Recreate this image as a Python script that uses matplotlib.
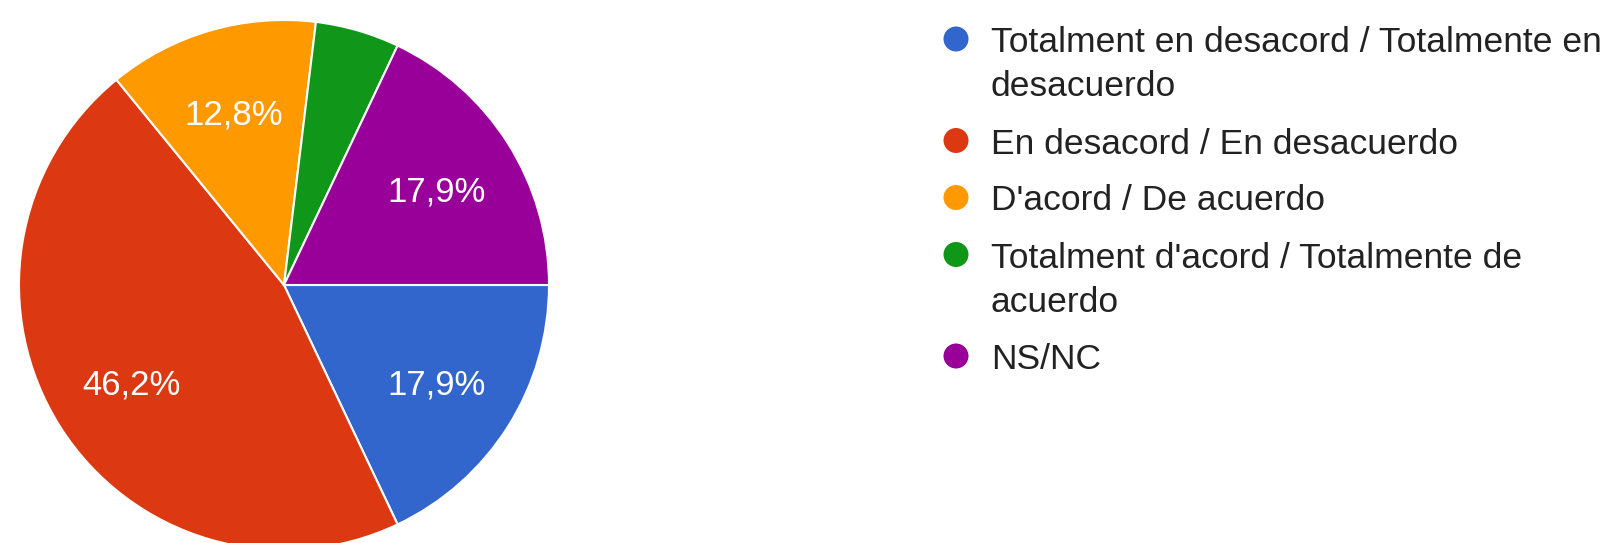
import matplotlib
matplotlib.use("Agg")
import matplotlib.pyplot as plt
from matplotlib.patches import Circle

plt.rcParams['font.family'] = ['Liberation Sans', 'DejaVu Sans']

# ---- data ----
categories = [
    "Totalment en desacord / Totalmente en\ndesacuerdo",
    "En desacord / En desacuerdo",
    "D'acord / De acuerdo",
    "Totalment d'acord / Totalmente de\nacuerdo",
    "NS/NC",
]
counts = [7, 18, 5, 2, 7]
colors = ["#3366cc", "#dc3912", "#ff9900", "#109618", "#990099"]

W, H = 1608, 543
fig = plt.figure(figsize=(W / 100, H / 100), dpi=100)
fig.patch.set_facecolor("white")

# pie axes in pixel layout
cx, cy, R = 284, 285, 265
ax = fig.add_axes([(cx - R) / W, (H - cy - R) / H, 2 * R / W, 2 * R / H])


def fmt(p):
    return (f"{p:.1f}%".replace(".", ",")) if p >= 6 else ""


wedges, texts, autotexts = ax.pie(
    counts, colors=colors, startangle=0, counterclock=False,
    autopct=fmt, pctdistance=0.68, radius=1.0,
    wedgeprops=dict(edgecolor="white", linewidth=1.5),
    textprops=dict(color="white", fontsize=25),
)
for t in autotexts:
    t.set_va("center_baseline")
ax.set_xlim(-1, 1)
ax.set_ylim(-1, 1)
ax.set_aspect("equal")
ax.axis("off")

# legend drawn manually (marker aligned with first text line)
mx, tx = 956, 991
y = 39
line_h, gap = 44.5, 57
for label, col in zip(categories, colors):
    circ = Circle((mx, H - y), 12.5, transform=None, facecolor=col, edgecolor="none")
    fig.patches.append(circ)
    lines = label.split("\n")
    for i, ln in enumerate(lines):
        fig.text(tx / W, 1 - (y + i * line_h) / H, ln, fontsize=25.5,
                 color="#222222", va="center_baseline", ha="left")
    y += (len(lines) - 1) * line_h + gap

fig.savefig("out.png", dpi=100)
